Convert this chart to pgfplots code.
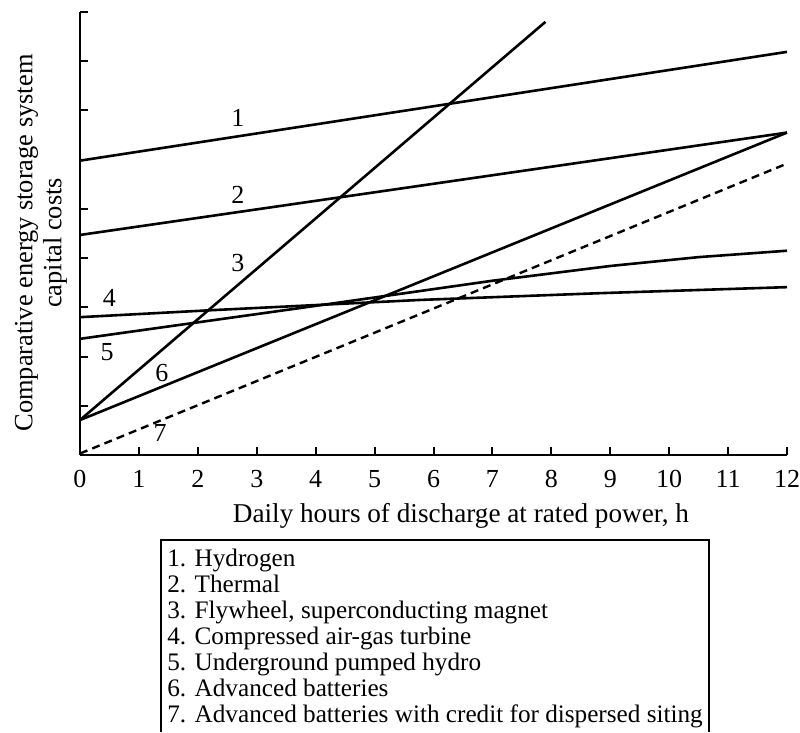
\documentclass[border=0pt]{standalone}
\usepackage{fontspec}
\setmainfont{Liberation Serif}
\usepackage{pgfplots}
\pgfplotsset{compat=1.18}
\tikzset{curve/.style={black, solid, mark=none, line width=1.3pt}}
\begin{document}
\begin{tikzpicture}
\begin{axis}[
 at={(0,0)}, anchor=south west,
 scale only axis, width=353.5pt, height=221.5pt,
 xmin=0,xmax=12,ymin=0,ymax=9,
 axis lines=left, axis line style={-, line width=1.3pt},
 xtick={0,...,12}, ytick={1,...,9}, yticklabels={},
 tick align=inside, major tick length=4pt,
 tick style={line width=1pt, black},
 /pgf/number format/assume math mode=true,
 ticklabel style={font=\fontsize{13}{15}\selectfont},
 xticklabel style={anchor=base, yshift=-16.5pt},
 clip=false,
]
\addplot[curve] coordinates {(0,5.98) (12,8.19)};
\addplot[curve] coordinates {(0,4.47) (12,6.55)};
\addplot[curve] coordinates {(0,0.71) (7.9,8.8)};
\addplot[curve] coordinates {(0,2.80) (2.2,2.94) (5.77,3.15) (8.88,3.29) (12,3.41)};
\addplot[curve] coordinates {(0,2.36) (4,3.03) (7,3.54) (9,3.84) (10.5,4.02) (12,4.15)};
\addplot[curve] coordinates {(0,0.71) (12,6.55)};
\addplot[curve, line width=1.2pt, dash pattern=on 4pt off 2.6pt] coordinates {(0,0.03) (12,5.92)};
\node[font=\fontsize{13}{15}\selectfont] at (axis cs:2.68,6.85) {1};
\node[font=\fontsize{13}{15}\selectfont] at (axis cs:2.68,5.28) {2};
\node[font=\fontsize{13}{15}\selectfont] at (axis cs:2.68,3.9) {3};
\node[font=\fontsize{13}{15}\selectfont] at (axis cs:0.5,3.19) {4};
\node[font=\fontsize{13}{15}\selectfont] at (axis cs:0.46,2.09) {5};
\node[font=\fontsize{13}{15}\selectfont] at (axis cs:1.39,1.67) {6};
\node[font=\fontsize{13}{15}\selectfont] at (axis cs:1.36,0.45) {7};
\end{axis}
\node[rotate=90, align=center, font=\fontsize{13.2}{14.5}\selectfont] at (-19.5pt,106pt) {Comparative energy storage system\\capital costs};
\node[anchor=base, font=\fontsize{13.6}{15}\selectfont] at (190.5pt,-34pt) {Daily hours of discharge at rated power, h};
\draw[line width=0.9pt] (40.5pt,-138.5pt) -- (40.5pt,-42.5pt) -- (314.5pt,-42.5pt) -- (314.5pt,-138.5pt);
\node[anchor=north west, align=left, inner sep=0pt, font=\fontsize{12.6}{13}\selectfont] at (43.5pt,-47pt) {1. Hydrogen\\2. Thermal\\3. Flywheel, superconducting magnet\\4. Compressed air-gas turbine\\5. Underground pumped hydro\\6. Advanced batteries\\7. Advanced batteries with credit for dispersed siting};
\pgfresetboundingbox
\path (-40pt,-139pt) rectangle (360pt,227.5pt);
\end{tikzpicture}
\end{document}
